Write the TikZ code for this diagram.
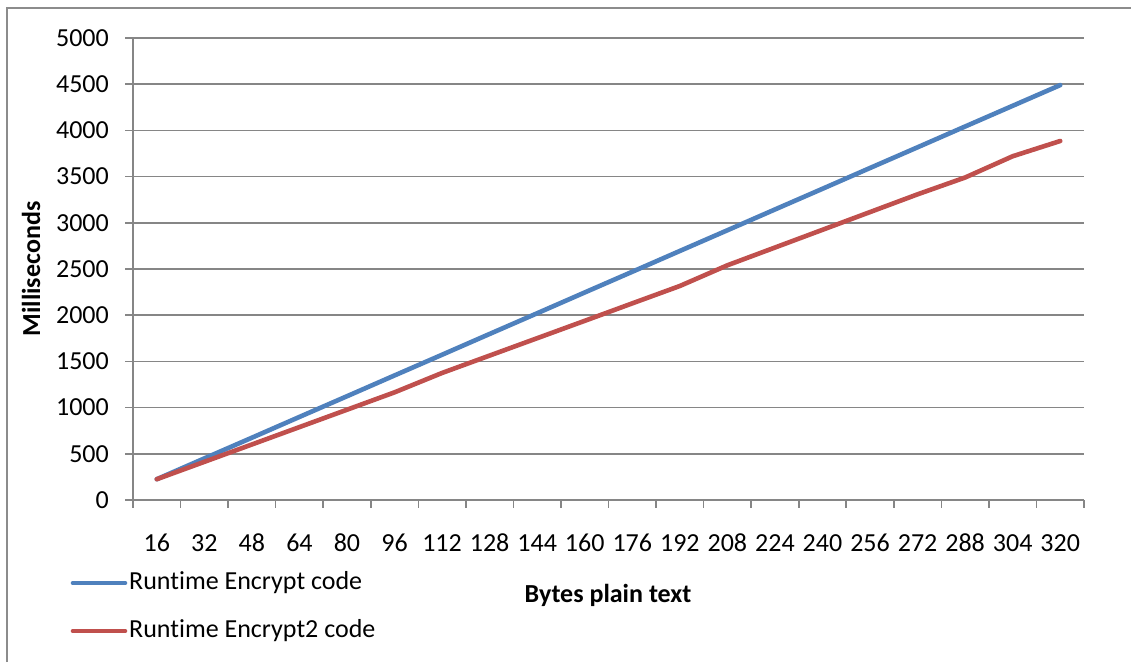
\documentclass[tikz,border=0pt]{standalone}
\usepackage{fontspec}
\setmainfont{Carlito}[Ligatures=NoCommon]
\definecolor{serblue}{HTML}{4F81BD}
\definecolor{serred}{HTML}{C0504D}
\definecolor{gridgray}{HTML}{868686}
\definecolor{framegray}{HTML}{8C8C8C}
\begin{document}
\begin{tikzpicture}[x=1pt,y=-1pt,
  gridline/.style={draw=gridgray,line width=1.6pt},
  tickline/.style={draw=gridgray,line width=1.6pt},
  series/.style={line width=4.6pt,line cap=round,line join=round},
  ticklabel/.style={font=\fontsize{26}{30}\selectfont,inner sep=0pt},
  axistitle/.style={font=\fontsize{26}{30}\selectfont\bfseries,inner sep=0pt},
  legendtext/.style={font=\fontsize{26}{30}\selectfont,inner sep=0pt,anchor=west}]
\useasboundingbox (0,0) rectangle (1131,662);
\fill[white] (0,0) rectangle (1131,662);
% chart frame
\draw[framegray,line width=1.6pt] (7,662) -- (7,8) -- (1131,8);
% horizontal gridlines and value labels
\foreach \v in {500,1000,...,5000}
  \draw[gridline] (125,{500-\v*0.0924}) -- (1084,{500-\v*0.0924});
\foreach \v in {0,500,...,5000}
  \node[ticklabel,anchor=east] (ylab\v) at (109,{500-\v*0.0924}) {\v};
% axes
\draw[tickline] (125,500) -- (1084,500);
\draw[tickline] (133,38) -- (133,508);
\foreach \k in {1,...,20}
  \draw[tickline] ({133+47.55*\k},500) -- ({133+47.55*\k},508);
% category labels
\foreach \lab [count=\i from 0] in {16,32,48,64,80,96,112,128,144,160,176,192,208,224,240,256,272,288,304,320}
  \node[ticklabel] (xlab\i) at ({133+47.55*(\i+0.5)},543) {\lab};
% data series
\draw[series,serblue] ({133+47.55*0.5},{500-225*0.0924})
  \foreach \v [count=\i from 1] in {450,674,899,1123,1348,1572,1797,2021,2246,2470,2695,2919,3144,3368,3593,3817,4042,4266,4490}
  { -- ({133+47.55*(\i+0.5)},{500-\v*0.0924}) };
\draw[series,serred] ({133+47.55*0.5},{500-225*0.0924})
  \foreach \v [count=\i from 1] in {413,601,789,977,1165,1375,1563,1751,1939,2128,2316,2540,2732,2924,3116,3308,3490,3720,3885}
  { -- ({133+47.55*(\i+0.5)},{500-\v*0.0924}) };
% axis titles
\node[axistitle] (xtitle) at (608,595) {Bytes plain text};
\node[axistitle,rotate=90] (ytitle) at (31,269) {Milliseconds};
% legend
\draw[series,serblue] (73,583) -- (125,583);
\node[legendtext] (leg1) at (129,583) {Runtime Encrypt code};
\draw[series,serred] (73,631) -- (125,631);
\node[legendtext] (leg2) at (129,631) {Runtime Encrypt2 code};
\end{tikzpicture}
\end{document}
